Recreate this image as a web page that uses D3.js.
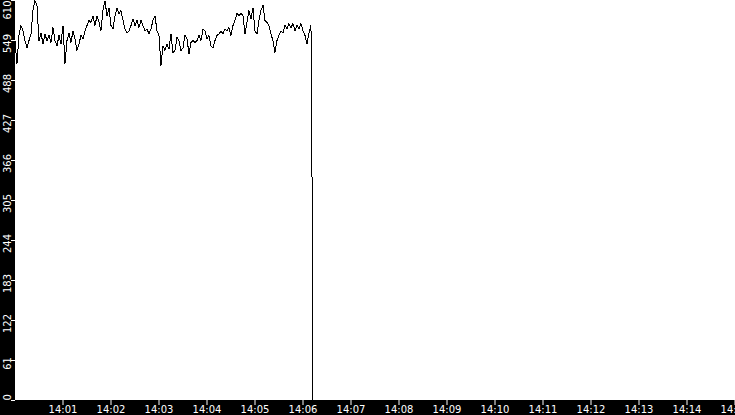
<!DOCTYPE html>
<html>
<head>
<meta charset="utf-8">
<script src="https://cdn.jsdelivr.net/npm/d3@7"></script>
<style>
  body { margin: 0; background: #000; }
  svg { display: block; }
  .tick text { font-family: "DejaVu Sans", sans-serif; font-size: 10px; fill: #fff; }
</style>
</head>
<body>
<div id="vis"></div>
<script>
const margin = {top: 0, right: 0, bottom: 15, left: 15};
const width = 735 - margin.left - margin.right;
const height = 415 - margin.top - margin.bottom;

// readings: one sample every 2.5 s starting 0.6 s after 14:00
const startTime = new Date(2024, 0, 1, 14, 0, 0);
const firstSampleSec = 0.6;
const sampleStepSec = 2.5;
const sampleValues = [
    548,513,556,571,563,548,537,548,558,594,
    609,602,548,560,543,558,548,556,545,568,
    548,540,556,543,571,513,548,560,545,563,
    551,533,543,556,551,563,571,579,576,586,
    571,586,576,563,594,609,586,598,571,566,
    586,598,589,594,579,566,560,563,571,581,
    571,579,568,579,571,563,566,558,566,579,
    586,563,556,510,540,533,543,535,558,530,
    533,553,548,533,537,556,551,528,545,548,
    545,548,556,548,566,563,551,556,540,537,
    548,556,558,563,558,566,563,568,556,571,
    579,590,586,590,586,558,576,594,581,598,
    563,558,579,594,602,579,576,571,558,548,
    530,548,556,563,560,571,566,574,568,574,
    563,571,566,574,563,556,543,560,571
];
// the feed drops out right after 14:06
const dropSec = [372.2, 373.1];
const dropValues = [286, 0];

const yTicks = [0, 61, 122, 183, 244, 305, 366, 427, 488, 549, 610];
const xTicks = d3.timeMinute.range(new Date(2024, 0, 1, 14, 1), new Date(2024, 0, 1, 14, 16));

let series = sampleValues.map((v, i) => ({
    time: new Date(startTime.getTime() + (firstSampleSec + i * sampleStepSec) * 1000),
    value: v
}));
dropValues.forEach((v, i) => series.push({
    time: new Date(startTime.getTime() + dropSec[i] * 1000),
    value: v
}));

const svg = d3.select('#vis')
    .append('svg')
    .attr('width', width + margin.left + margin.right)
    .attr('height', height + margin.top + margin.bottom)
    .style('background', '#000');

const g = svg.append('g')
    .attr('transform', `translate(${margin.left},${margin.top})`);

g.append('rect')
    .attr('width', width)
    .attr('height', height)
    .attr('fill', '#fff');

g.append('clipPath').attr('id', 'plotClip')
    .append('rect')
    .attr('width', width)
    .attr('height', height);

let xScale = d3.scaleTime()
    .domain([startTime, new Date(2024, 0, 1, 14, 15)])
    .range([-0.5, width - 0.5]);
let yScale = d3.scaleLinear()
    .domain([0, 610])
    .range([height, 0]);

let xAxis = g.append('g')
    .attr('transform', `translate(0,${height})`)
    .call(d3.axisBottom(xScale).tickValues(xTicks).tickFormat(d3.timeFormat('%H:%M')).tickSize(5).tickPadding(1));
xAxis.select('.domain').remove();
xAxis.selectAll('.tick line').attr('stroke', '#fff');

let yAxis = g.append('g')
    .call(d3.axisLeft(yScale).tickValues(yTicks).tickSize(4));
yAxis.select('.domain').remove();
yAxis.selectAll('.tick line').attr('stroke', '#fff');

// rotated labels, kept inside the plot height
yAxis.selectAll('.tick text').each(function(d) {
    const t = d3.select(this);
    const w = this.getComputedTextLength();
    let cy = yScale(d) + 3;
    cy = Math.max(w / 2, Math.min(height - w / 2, cy));
    t.attr('x', null).attr('dy', null)
        .attr('text-anchor', 'middle')
        .attr('transform', `translate(-4.5,${cy - yScale(d)}) rotate(-90)`);
});

const line = d3.line()
    .x(d => xScale(d.time))
    .y(d => yScale(d.value));

g.append('path')
    .datum(series)
    .attr('clip-path', 'url(#plotClip)')
    .attr('d', line)
    .attr('fill', 'none')
    .attr('stroke', '#000')
    .attr('stroke-width', 1)
    .style('shape-rendering', 'crispEdges');
</script>
</body>
</html>
